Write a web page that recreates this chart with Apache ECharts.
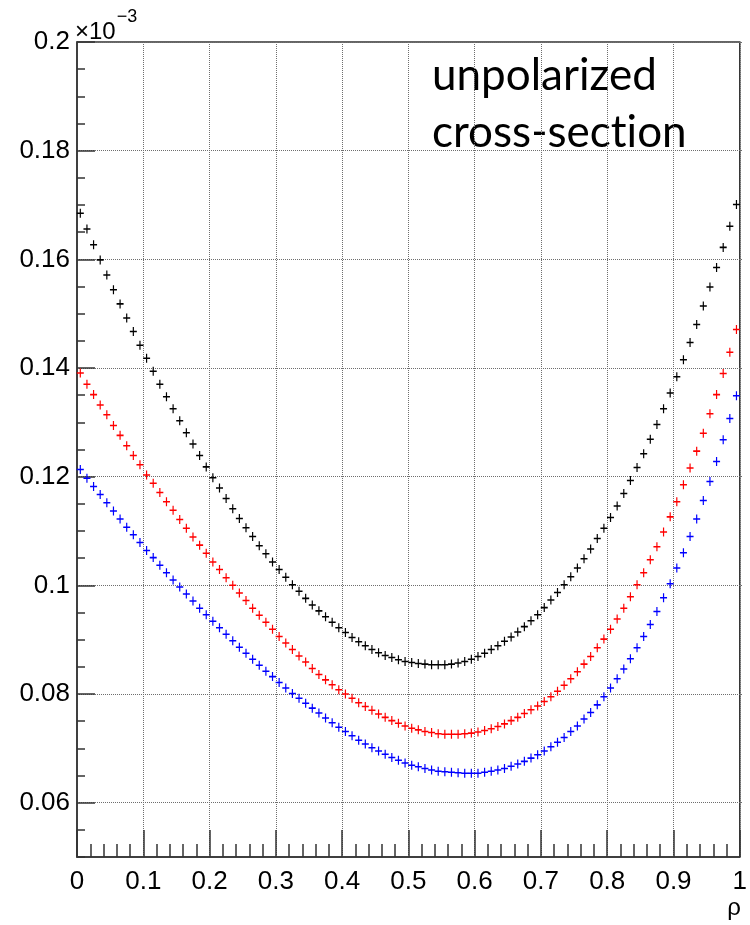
<!DOCTYPE html>
<html>
<head>
<meta charset="utf-8">
<script src="https://cdn.jsdelivr.net/npm/echarts@6/dist/echarts.min.js"></script>
<style>
  html, body { margin: 0; padding: 0; background: #ffffff; }
  #chart { width: 750px; height: 925px; }
</style>
</head>
<body>
<div id="chart"></div>
<script>
// Histogram binning in rho: 100 bins of width 0.01 on [0, 1]
const binWidth = 0.01;

// Bin contents (in units of the axis, shown with a x10^-3 multiplier)
const blackValues = [
  0.1685, 0.1656, 0.1627, 0.1599, 0.1571, 0.1544, 0.1518, 0.1492, 0.1467, 0.1442,
  0.1418, 0.1394, 0.1370, 0.1347, 0.1325, 0.1303, 0.1281, 0.1260, 0.1239, 0.1218,
  0.1198, 0.1179, 0.1160, 0.1141, 0.1123, 0.1106, 0.1090, 0.1073, 0.1058, 0.1043,
  0.1029, 0.1015, 0.1001, 0.0989, 0.0976, 0.0964, 0.0953, 0.0942, 0.0932, 0.0922,
  0.0913, 0.0904, 0.0896, 0.0889, 0.0882, 0.0876, 0.0871, 0.0867, 0.0863, 0.0860,
  0.0858, 0.0856, 0.0855, 0.0854, 0.0854, 0.0854, 0.0855, 0.0857, 0.0860, 0.0864,
  0.0869, 0.0875, 0.0882, 0.0889, 0.0897, 0.0905, 0.0914, 0.0924, 0.0935, 0.0946,
  0.0959, 0.0973, 0.0987, 0.1001, 0.1016, 0.1032, 0.1049, 0.1067, 0.1086, 0.1105,
  0.1125, 0.1146, 0.1169, 0.1193, 0.1217, 0.1242, 0.1269, 0.1296, 0.1325, 0.1354,
  0.1384, 0.1415, 0.1447, 0.1480, 0.1514, 0.1549, 0.1585, 0.1622, 0.1661, 0.1701
];
const redValues = [
  0.1391, 0.1370, 0.1351, 0.1332, 0.1314, 0.1294, 0.1276, 0.1257, 0.1239, 0.1222,
  0.1203, 0.1188, 0.1171, 0.1154, 0.1138, 0.1121, 0.1105, 0.1089, 0.1074, 0.1059,
  0.1043, 0.1029, 0.1014, 0.1000, 0.0986, 0.0972, 0.0958, 0.0945, 0.0932, 0.0919,
  0.0906, 0.0894, 0.0882, 0.0870, 0.0859, 0.0847, 0.0836, 0.0826, 0.0817, 0.0808,
  0.0800, 0.0792, 0.0784, 0.0777, 0.0770, 0.0763, 0.0757, 0.0751, 0.0746, 0.0741,
  0.0737, 0.0734, 0.0731, 0.0729, 0.0727, 0.0726, 0.0726, 0.0726, 0.0727, 0.0728,
  0.0730, 0.0733, 0.0736, 0.0740, 0.0745, 0.0751, 0.0757, 0.0764, 0.0771, 0.0778,
  0.0786, 0.0795, 0.0805, 0.0816, 0.0828, 0.0841, 0.0855, 0.0869, 0.0885, 0.0901,
  0.0919, 0.0938, 0.0958, 0.0979, 0.1001, 0.1023, 0.1047, 0.1071, 0.1098, 0.1126,
  0.1154, 0.1185, 0.1216, 0.1247, 0.1280, 0.1316, 0.1351, 0.1390, 0.1429, 0.1471
];
const blueValues = [
  0.1213, 0.1197, 0.1182, 0.1167, 0.1152, 0.1137, 0.1122, 0.1107, 0.1093, 0.1079,
  0.1064, 0.1051, 0.1037, 0.1023, 0.1010, 0.0997, 0.0984, 0.0971, 0.0958, 0.0946,
  0.0934, 0.0922, 0.0910, 0.0898, 0.0886, 0.0875, 0.0864, 0.0853, 0.0842, 0.0832,
  0.0821, 0.0811, 0.0801, 0.0792, 0.0783, 0.0774, 0.0765, 0.0756, 0.0747, 0.0739,
  0.0731, 0.0723, 0.0715, 0.0708, 0.0701, 0.0695, 0.0689, 0.0683, 0.0678, 0.0673,
  0.0669, 0.0666, 0.0663, 0.0660, 0.0658, 0.0657, 0.0656, 0.0655, 0.0654, 0.0654,
  0.0654, 0.0656, 0.0658, 0.0660, 0.0663, 0.0667, 0.0671, 0.0676, 0.0682, 0.0688,
  0.0695, 0.0703, 0.0711, 0.0720, 0.0731, 0.0741, 0.0754, 0.0766, 0.0780, 0.0795,
  0.0811, 0.0828, 0.0846, 0.0865, 0.0885, 0.0906, 0.0928, 0.0952, 0.0977, 0.1003,
  0.1032, 0.1060, 0.1090, 0.1122, 0.1156, 0.1191, 0.1228, 0.1268, 0.1307, 0.1349
];

// Axis ranges and labelled ticks
const xRange = [0, 1];
const yRange = [0.05, 0.2];
const yMajorTicks = [0.06, 0.08, 0.1, 0.12, 0.14, 0.16, 0.18, 0.2];

const annotationLines = ['unpolarized', 'cross-section'];
const xAxisTitle = 'ρ';

// Turn bin contents into [bin centre, value] pairs
function toPoints(values) {
  return values.map((v, i) => [(i + 0.5) * binWidth, v]);
}

const AXIS_FONT = '"Liberation Sans", Arial, Helvetica, sans-serif';
const NOTE_FONT = 'Lato, "Open Sans", sans-serif';
const NOTE_SIZE = 44;
const FRAME = '#333333';
const GRIDLINE = {
  show: true,
  lineStyle: { color: '#6e6e6e', width: 1, type: [1, 1] }
};
// "+" marker: thin horizontal and vertical bars
const CROSS = 'path://M8.3,0H11.7V8.3H20V11.7H11.7V20H8.3V11.7H0V8.3H8.3Z';

const gridRect = { left: 77, top: 42, width: 666, height: 815 };

const chart = echarts.init(document.getElementById('chart'), null, { renderer: 'canvas' });

function crossSeries(name, values, color) {
  return {
    name: name,
    type: 'scatter',
    xAxisIndex: 0,
    yAxisIndex: 0,
    data: toPoints(values),
    symbol: CROSS,
    symbolSize: [7, 9],
    itemStyle: { color: color, opacity: 1 },
    emphasis: { disabled: true },
    silent: true,
    z: 5
  };
}

// Measures a run of annotation text in its font
const measureCtx = document.createElement('canvas').getContext('2d');
measureCtx.font = NOTE_SIZE + 'px ' + NOTE_FONT;

// One line of the annotation. A "ti" pair is drawn as two separate pieces so
// the font keeps the letters apart instead of drawing its ligature.
function noteLine(line, left, top) {
  const k = line.indexOf('ti');
  const runs = k < 0 ? [line] : [line.slice(0, k + 1), line.slice(k + 1)];
  const items = [];
  let x = left;
  runs.forEach(run => {
    items.push({
      type: 'text', left: x, top: top, silent: true,
      style: { text: run, fontSize: NOTE_SIZE, fontFamily: NOTE_FONT, fill: '#000' }
    });
    x += measureCtx.measureText(run).width;
  });
  return items;
}

chart.setOption({
  animation: false,
  backgroundColor: '#ffffff',
  grid: [
    Object.assign({ show: true, borderColor: FRAME, borderWidth: 1.5, backgroundColor: 'transparent' }, gridRect),
    Object.assign({ show: false }, gridRect)
  ],
  xAxis: [
    {
      type: 'value', gridIndex: 0,
      min: xRange[0], max: xRange[1], interval: 0.1,
      axisLine: { show: true, onZero: false, lineStyle: { color: FRAME, width: 1.5 } },
      axisTick: { show: true, inside: true, length: 27, lineStyle: { color: FRAME, width: 1.5 } },
      minorTick: { show: true, splitNumber: 5, length: 13, lineStyle: { color: FRAME, width: 1.5 } },
      splitLine: GRIDLINE,
      axisLabel: {
        margin: 12, color: '#000', fontSize: 26, fontFamily: AXIS_FONT,
        formatter: v => String(+v.toFixed(2))
      }
    },
    {
      type: 'value', gridIndex: 1, show: false,
      min: xRange[0], max: xRange[1]
    }
  ],
  yAxis: [
    {
      // minor ticks every 0.005
      type: 'value', gridIndex: 0,
      min: yRange[0], max: yRange[1], interval: 0.005,
      axisLine: { show: true, onZero: false, lineStyle: { color: FRAME, width: 1.5 } },
      axisTick: { show: true, inside: true, length: 8, lineStyle: { color: FRAME, width: 1.5 } },
      axisLabel: { show: false },
      splitLine: { show: false }
    },
    {
      // labelled major ticks and grid lines
      type: 'value', gridIndex: 1, position: 'left',
      min: yRange[0], max: yRange[1],
      axisLine: { show: false },
      axisTick: {
        show: true, inside: true, length: 18, customValues: yMajorTicks,
        lineStyle: { color: FRAME, width: 1.5 }
      },
      splitLine: GRIDLINE,
      axisLabel: {
        customValues: yMajorTicks,
        margin: 7, color: '#000', fontSize: 26, fontFamily: AXIS_FONT,
        formatter: v => String(+v.toFixed(3))
      }
    }
  ],
  series: [
    crossSeries('black', blackValues, '#000000'),
    crossSeries('red', redValues, '#ff0000'),
    crossSeries('blue', blueValues, '#0000ff')
  ],
  graphic: [
    {
      type: 'text', left: 75, top: 8, silent: true,
      style: {
        text: '{b|×10}{s|−3}',
        rich: {
          b: { fontSize: 24, fontFamily: AXIS_FONT, fill: '#000', padding: [12, 0, 0, 0] },
          s: { fontSize: 18, fontFamily: AXIS_FONT, fill: '#000', verticalAlign: 'top', padding: [0, 0, 0, 1] }
        }
      }
    },
    {
      type: 'text', right: 9, top: 896, silent: true,
      style: { text: xAxisTitle, fontSize: 24, fontFamily: AXIS_FONT, fill: '#000' }
    }
  ].concat(
    noteLine(annotationLines[0], 432, 54),
    noteLine(annotationLines[1], 432, 111)
  )
});
</script>
</body>
</html>
